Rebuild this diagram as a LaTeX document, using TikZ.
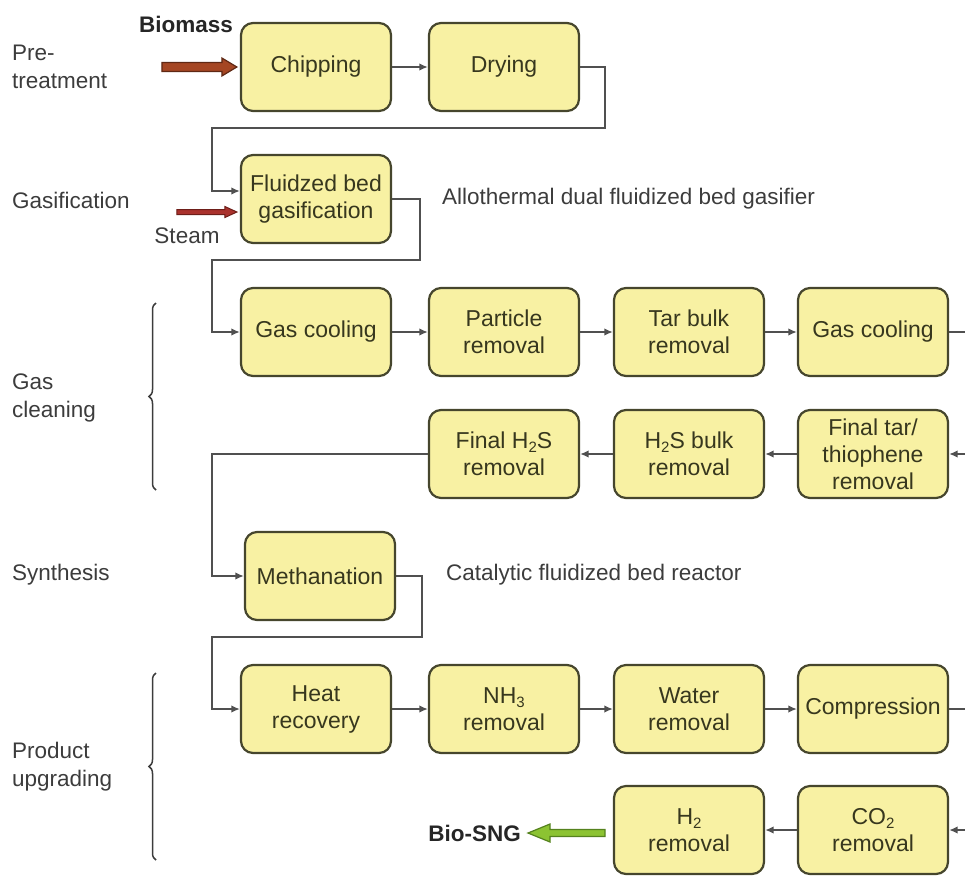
\documentclass[tikz,border=0pt]{standalone}
\usepackage{fontspec}
\setmainfont{Liberation Sans}
\usetikzlibrary{arrows.meta,decorations.pathreplacing,calc}
\definecolor{boxfill}{RGB}{248,241,163}
\definecolor{boxline}{RGB}{70,70,45}
\definecolor{boxtext}{RGB}{55,55,30}
\definecolor{linecol}{RGB}{80,80,80}
\definecolor{labtext}{RGB}{60,60,60}
\definecolor{brownarrow}{RGB}{165,70,35}
\definecolor{brownline}{RGB}{95,40,20}
\definecolor{steamarrow}{RGB}{170,50,45}
\definecolor{steamline}{RGB}{110,30,25}
\definecolor{greenarrow}{RGB}{140,195,50}
\definecolor{greenline}{RGB}{85,130,30}
\newcommand{\mysub}[1]{\raisebox{-0.35ex}{\fontsize{15pt}{15pt}\selectfont #1}}
\begin{document}
\begin{tikzpicture}[x=1pt,y=-1pt,
 proc/.style={draw=boxline, line width=2.2pt, fill=boxfill, rounded corners=12pt,
   minimum width=150pt, minimum height=88pt, align=center, text=boxtext,
   font=\fontsize{23pt}{27pt}\selectfont, inner sep=2pt},
 lab/.style={align=left, anchor=west, text=labtext, font=\fontsize{22.5pt}{28pt}\selectfont, inner sep=0pt},
 note/.style={anchor=west, text=labtext, font=\fontsize{22.5pt}{27pt}\selectfont, inner sep=0pt},
 boldlab/.style={text=black!85, font=\fontsize{22.5pt}{27pt}\selectfont\bfseries, inner sep=0pt},
 conn/.style={draw=linecol, line width=2pt, -{Latex[length=8.5pt,width=7.5pt]}},
 plain/.style={draw=linecol, line width=2pt},
 brc/.style={draw=labtext, line width=1.5pt, decorate, decoration={brace, amplitude=7pt}},
]
\useasboundingbox (0,0) rectangle (965,876);

% process boxes
\node[proc] (chip)  at (316,67)  {Chipping};
\node[proc] (dry)   at (504,67)  {Drying};
\node[proc] (gasif) at (316,199) {Fluidzed bed\\gasification};
\node[proc] (gc1)   at (316,332) {Gas cooling};
\node[proc] (part)  at (504,332) {Particle\\removal};
\node[proc] (tar)   at (689,332) {Tar bulk\\removal};
\node[proc] (gc2)   at (873,332) {Gas cooling};
\node[proc] (ftar)  at (873,454) {Final tar/\\thiophene\\removal};
\node[proc] (hbulk) at (689,454) {H\mysub{2}S bulk\\removal};
\node[proc] (fh2s)  at (504,454) {Final H\mysub{2}S\\removal};
\node[proc] (meth)  at (320,576) {Methanation};
\node[proc] (heat)  at (316,709) {Heat\\recovery};
\node[proc] (nh3)   at (504,709) {NH\mysub{3}\\removal};
\node[proc] (water) at (689,709) {Water\\removal};
\node[proc] (comp)  at (873,709) {Compression};
\node[proc] (co2)   at (873,830) {CO\mysub{2}\\removal};
\node[proc] (h2)    at (689,830) {H\mysub{2}\\removal};

% stage labels
\node[lab] (l1) at (12,67)  {Pre-\\treatment};
\node[lab] (l2) at (12,200) {Gasification};
\node[lab] (l3) at (12,398) {Gas\\cleaning};
\node[lab] (l4) at (12,575) {Synthesis};
\node[lab] (l5) at (12,767) {Product\\upgrading};

% notes
\node[note] (n1) at (442,199) {Allothermal dual fluidized bed gasifier};
\node[note] (n2) at (446,575) {Catalytic fluidized bed reactor};
\node[boldlab] (bio) at (186,24) {Biomass};
\node[note, anchor=center] (steam) at (187,236) {Steam};
\node[boldlab, anchor=east] (sng) at (521,833) {Bio-SNG};

% braces
\draw[brc] (156,490) -- (156,303);
\draw[brc] (156,860) -- (156,673);

% input arrows
\draw[fill=brownarrow, draw=brownline, line width=1.2pt]
  ($(chip.west)+(-3,0)$) -- ++(-15,-9) -- ++(0,4.5) -- ++(-60,0) -- ++(0,9) -- ++(60,0) -- ++(0,4.5) -- cycle;
\draw[fill=steamarrow, draw=steamline, line width=1pt]
  ($(gasif.west)+(-3,13)$) -- ++(-12,-5.5) -- ++(0,3) -- ++(-48,0) -- ++(0,5) -- ++(48,0) -- ++(0,3) -- cycle;
% output arrow
\draw[fill=greenarrow, draw=greenline, line width=1.2pt]
  ($(sng.east)+(7,0)$) -- ++(22,-9) -- ++(0,5.5) -- ++(55,0) -- ++(0,7) -- ++(-55,0) -- ++(0,5.5) -- cycle;

% connectors
\draw[conn] (chip) -- (dry);
\draw[conn] (dry.east) -| (605,128) -- (212,128) |- ($(gasif.west)+(0,-8)$);
\draw[conn] (gasif.east) -| (420,260) -- (212,260) |- (gc1.west);
\draw[conn] (gc1) -- (part);
\draw[conn] (part) -- (tar);
\draw[conn] (tar) -- (gc2);
\coordinate (e1) at (965,332);
\draw[plain] (gc2.east) -- (e1);
\coordinate (e2) at (965,454);
\draw[conn] (e2) -- (ftar.east);
\draw[conn] (ftar) -- (hbulk);
\draw[conn] (hbulk) -- (fh2s);
\draw[conn] (fh2s.west) -- (212,454) |- (meth.west);
\draw[conn] (meth.east) -| (422,637) -- (212,637) |- (heat.west);
\draw[conn] (heat) -- (nh3);
\draw[conn] (nh3) -- (water);
\draw[conn] (water) -- (comp);
\coordinate (e3) at (965,709);
\draw[plain] (comp.east) -- (e3);
\coordinate (e4) at (965,830);
\draw[conn] (e4) -- (co2.east);
\draw[conn] (co2) -- (h2);
\end{tikzpicture}
\end{document}
